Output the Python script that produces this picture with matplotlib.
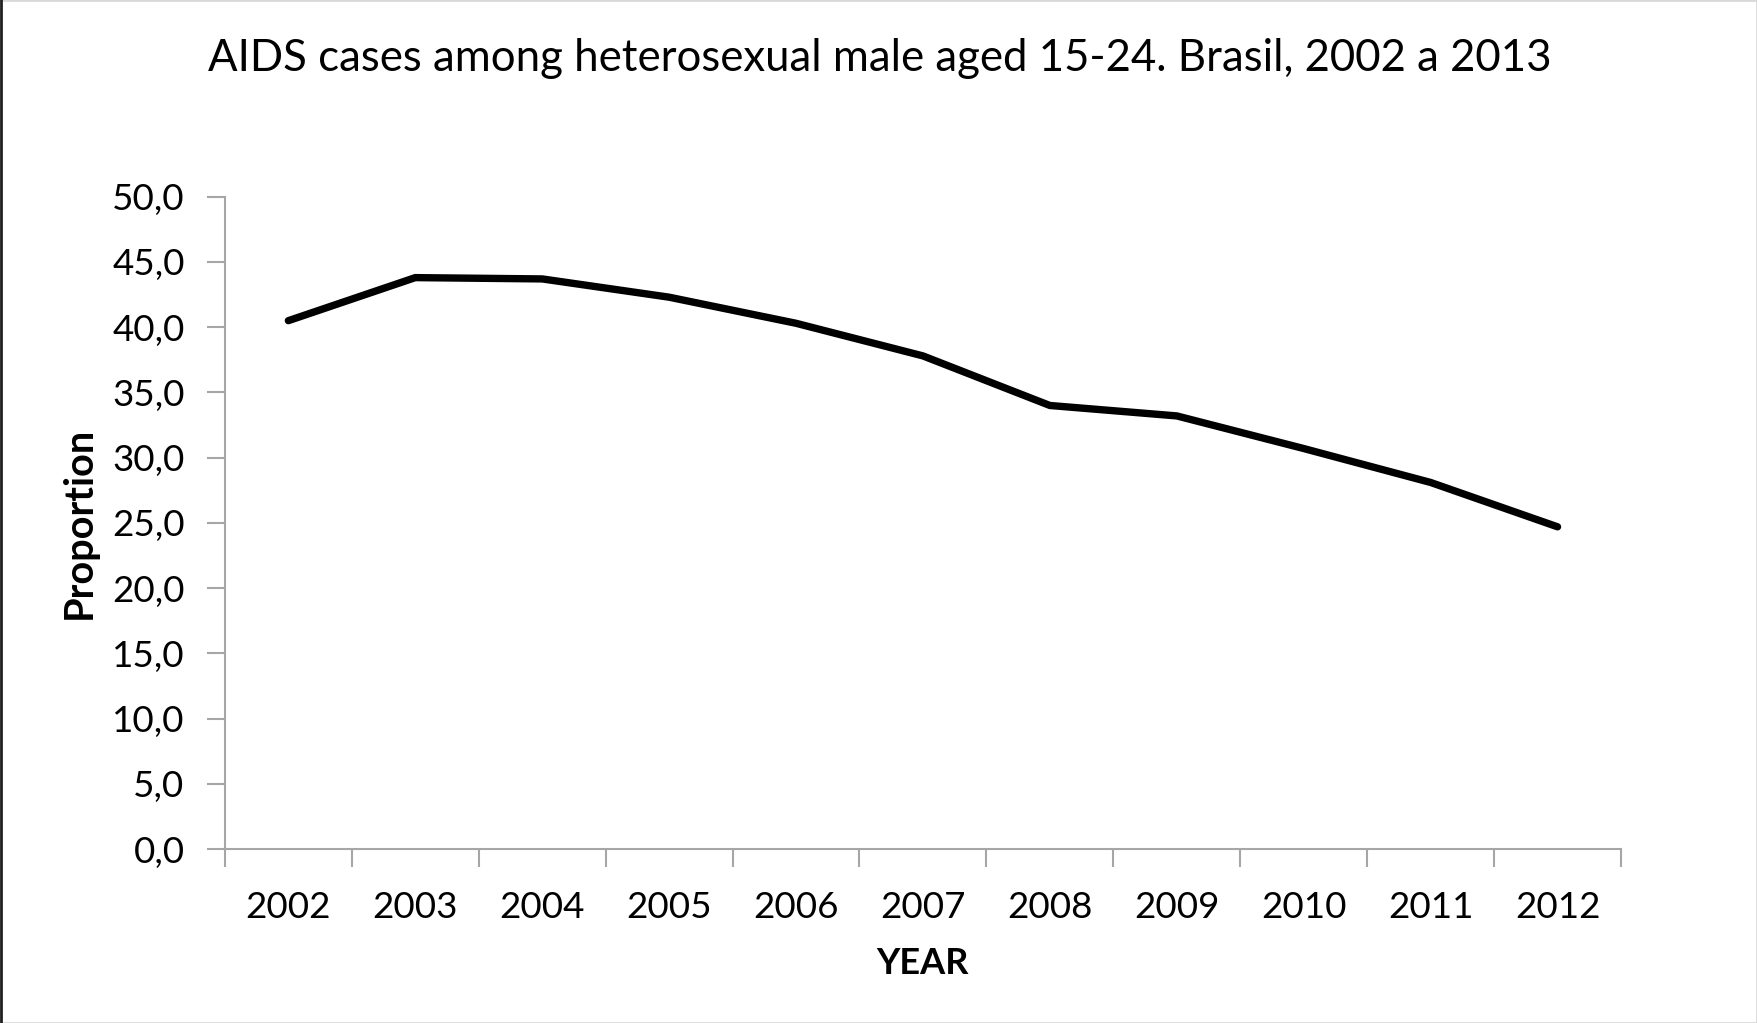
import matplotlib.pyplot as plt
from matplotlib.lines import Line2D
from matplotlib.patches import Rectangle
from matplotlib.ticker import FixedLocator, FuncFormatter

years = ["2002", "2003", "2004", "2005", "2006", "2007", "2008", "2009", "2010", "2011", "2012"]
proportion = [40.5, 43.8, 43.7, 42.3, 40.3, 37.8, 34.0, 33.2, 30.7, 28.1, 24.7]
yticks = [0, 5, 10, 15, 20, 25, 30, 35, 40, 45, 50]

plt.rcParams['font.family'] = ['Lato', 'DejaVu Sans']

fig = plt.figure(figsize=(17.57, 10.23), dpi=100)
ax = fig.add_axes([0.128, 0.170, 0.7946, 0.6377])

x = list(range(len(years)))
ax.plot(x, proportion, color='black', linewidth=5.3, solid_capstyle='round', solid_joinstyle='miter')

ax.set_xlim(-0.5, len(years) - 0.5)
ax.set_ylim(0, 50)

# category labels centred, tick marks on the boundaries
ax.set_xticks(x)
ax.set_xticklabels(years)
ax.xaxis.set_minor_locator(FixedLocator([i - 0.5 for i in range(len(years) + 1)]))
ax.tick_params(axis='x', which='major', length=0, pad=30, labelsize=26.5)
ax.tick_params(axis='x', which='minor', length=13, width=1.5, color='#a6a6a6', direction='out')

ax.set_yticks(yticks)
ax.yaxis.set_major_formatter(FuncFormatter(lambda v, p: f"{v:.1f}".replace('.', ',')))
ax.tick_params(axis='y', length=13, width=1.5, color='#a6a6a6', direction='out', pad=16, labelsize=26.5)

for s in ['top', 'right']:
    ax.spines[s].set_visible(False)
for s in ['left', 'bottom']:
    ax.spines[s].set_color('#a6a6a6')
    ax.spines[s].set_linewidth(1.5)

ax.set_xlabel("YEAR", fontsize=26, fontweight='bold', labelpad=17)
ax.set_ylabel("Proportion", fontsize=28.5, fontweight='bold', labelpad=10)
fig.suptitle("AIDS cases among heterosexual male aged 15-24. Brasil, 2002 a 2013",
             fontsize=31.5, x=0.501, y=0.963)

# outer frame of the original chart
fig.patches.append(Rectangle((0, 0), 1, 1, transform=fig.transFigure, fill=False,
                             edgecolor='#d9d9d9', linewidth=2))
fig.lines.append(Line2D([0.0008, 0.0008], [0, 1], transform=fig.transFigure,
                        color='#202020', linewidth=2))

fig.savefig("out.png", dpi=100, facecolor='white')
